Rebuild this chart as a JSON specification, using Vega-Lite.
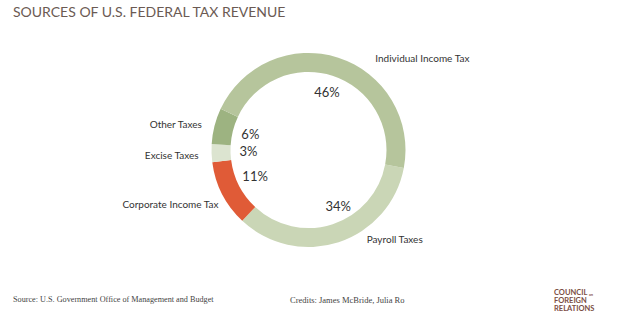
{
  "$schema": "https://vega.github.io/schema/vega-lite/v6.json",
  "autosize": {"type": "none"},
  "width": 617,
  "height": 256,
  "padding": {"top": 22, "bottom": 44, "left": 0, "right": 0},
  "background": "white",
  "title": {"text": "SOURCES OF U.S. FEDERAL TAX REVENUE", "anchor": "start", "frame": "group", "dx": 13, "offset": 2, "fontSize": 14, "font": "Lato", "fontWeight": "normal", "color": "#6b5a53"},
  "config": {"view": {"stroke": null}},
  "datasets": {
    "taxes": [
      {"cat": "Payroll Taxes", "share": 0.34, "order": 1},
      {"cat": "Corporate Income Tax", "share": 0.11, "order": 2},
      {"cat": "Excise Taxes", "share": 0.03, "order": 3},
      {"cat": "Other Taxes", "share": 0.06, "order": 4},
      {"cat": "Individual Income Tax", "share": 0.46, "order": 5}
    ]
  },
  "layer": [
    {
      "data": {"name": "taxes"},
      "mark": {"type": "arc", "outerRadius": 97, "innerRadius": 78, "strokeWidth": 0},
      "encoding": {
        "theta": {"field": "share", "type": "quantitative", "stack": true, "scale": {"range": [1.7575, 8.0407]}},
        "order": {"field": "order", "type": "ordinal"},
        "color": {"field": "cat", "type": "nominal", "legend": null,
          "scale": {"domain": ["Payroll Taxes", "Corporate Income Tax", "Excise Taxes", "Other Taxes", "Individual Income Tax"],
                    "range": ["#cad6b6", "#e05b37", "#dce4d0", "#9db381", "#b6c59c"]}}
      }
    },
    {
      "data": {"name": "taxes"},
      "mark": {"type": "text", "radius": 60, "fontSize": 13, "font": "Lato", "color": "#333333"},
      "encoding": {
        "theta": {"field": "share", "type": "quantitative", "stack": true, "scale": {"range": [1.7575, 8.0407]}},
        "order": {"field": "order", "type": "ordinal"},
        "text": {"condition": {"test": "datum.cat !== 'Payroll Taxes'", "field": "share", "type": "quantitative", "format": ".0%"}, "value": ""}
      }
    },
    {
      "data": {"name": "taxes"},
      "mark": {"type": "text", "radius": 60, "dx": 11, "fontSize": 13, "font": "Lato", "color": "#333333"},
      "encoding": {
        "theta": {"field": "share", "type": "quantitative", "stack": true, "scale": {"range": [1.7575, 8.0407]}},
        "order": {"field": "order", "type": "ordinal"},
        "text": {"condition": {"test": "datum.cat === 'Payroll Taxes'", "field": "share", "type": "quantitative", "format": ".0%"}, "value": ""}
      }
    },
    {
      "data": {"name": "taxes"},
      "mark": {"type": "text", "radius": 110, "dy": 2, "fontSize": 10, "font": "Lato", "color": "#333333", "align": "right", "baseline": "middle"},
      "encoding": {
        "theta": {"field": "share", "type": "quantitative", "stack": true, "scale": {"range": [1.7575, 8.0407]}},
        "order": {"field": "order", "type": "ordinal"},
        "text": {"condition": {"test": "datum.cat === 'Other Taxes' || datum.cat === 'Excise Taxes'", "field": "cat"}, "value": ""}
      }
    },
    {
      "data": {"name": "taxes"},
      "mark": {"type": "text", "radius": 110, "dx": 8, "dy": 5, "fontSize": 10, "font": "Lato", "color": "#333333", "align": "right", "baseline": "middle"},
      "encoding": {
        "theta": {"field": "share", "type": "quantitative", "stack": true, "scale": {"range": [1.7575, 8.0407]}},
        "order": {"field": "order", "type": "ordinal"},
        "text": {"condition": {"test": "datum.cat === 'Corporate Income Tax'", "field": "cat"}, "value": ""}
      }
    },
    {
      "data": {"name": "taxes"},
      "mark": {"type": "text", "radius": 110, "dx": 33, "dy": 14, "fontSize": 10, "font": "Lato", "color": "#333333", "align": "left", "baseline": "middle"},
      "encoding": {
        "theta": {"field": "share", "type": "quantitative", "stack": true, "scale": {"range": [1.7575, 8.0407]}},
        "order": {"field": "order", "type": "ordinal"},
        "text": {"condition": {"test": "datum.cat === 'Individual Income Tax'", "field": "cat"}, "value": ""}
      }
    },
    {
      "data": {"name": "taxes"},
      "mark": {"type": "text", "radius": 110, "dx": 24, "dy": -15, "fontSize": 10, "font": "Lato", "color": "#333333", "align": "left", "baseline": "middle"},
      "encoding": {
        "theta": {"field": "share", "type": "quantitative", "stack": true, "scale": {"range": [1.7575, 8.0407]}},
        "order": {"field": "order", "type": "ordinal"},
        "text": {"condition": {"test": "datum.cat === 'Payroll Taxes'", "field": "cat"}, "value": ""}
      }
    },
    {
      "data": {"values": [{}]},
      "mark": {"type": "text", "text": "Source: U.S. Government Office of Management and Budget", "x": 13, "y": 278, "align": "left", "baseline": "middle", "font": "Liberation Serif", "fontSize": 8.2, "color": "#444444"},
      "encoding": {}
    },
    {
      "data": {"values": [{}]},
      "mark": {"type": "text", "text": "Credits: James McBride, Julia Ro", "x": 290, "y": 278, "align": "left", "baseline": "middle", "font": "Liberation Serif", "fontSize": 8.5, "color": "#444444"},
      "encoding": {}
    },
    {
      "data": {"values": [{}]},
      "mark": {"type": "text", "text": ["COUNCIL", "FOREIGN", "RELATIONS"], "x": 554, "y": 271, "lineHeight": 8, "align": "left", "baseline": "middle", "font": "Lato", "fontWeight": "bold", "fontSize": 7.5, "color": "#7b4d43"},
      "encoding": {}
    },
    {
      "data": {"values": [{}]},
      "mark": {"type": "text", "text": "on", "x": 589, "y": 273, "align": "left", "baseline": "middle", "font": "Lato", "fontWeight": "bold", "fontSize": 3.5, "color": "#7b4d43"},
      "encoding": {}
    }
  ]
}
